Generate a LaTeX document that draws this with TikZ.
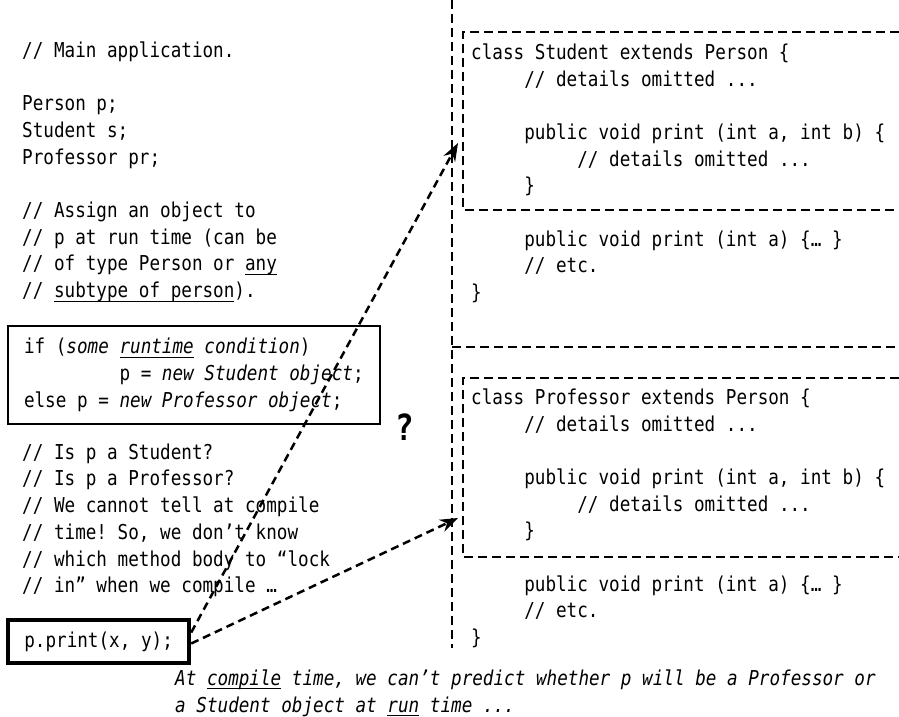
\documentclass[tikz,border=0pt]{standalone}
\usepackage{fontspec}
\setmainfont{DejaVu Sans Mono}[FakeStretch=0.86,
    ItalicFont={DejaVu Sans Mono Oblique},
    BoldFont={DejaVu Sans Mono Bold},
    BoldItalicFont={DejaVu Sans Mono Bold Oblique}]
\usetikzlibrary{arrows.meta}
\newcommand{\codefont}{\fontsize{20.5}{26.7}\selectfont\frenchspacing\spaceskip=\fontcharwd\font`0\relax}
\newcommand{\tabin}{\phantom{00000}}
\newcommand{\undl}[1]{\setbox0\hbox{#1}\rlap{\rule[-4pt]{\wd0}{1pt}}\box0\relax}

\begin{document}
\begin{tikzpicture}[x=1pt, y=-1pt,
    code/.style={font=\codefont, align=left, inner sep=0pt, anchor=north west},
    codebox/.style={draw, line width=2pt, font=\codefont, align=left,
        inner xsep=16pt, anchor=north west},
    callbox/.style={draw, line width=4pt, font=\codefont, align=left,
        inner xsep=16.3pt, anchor=north west},
    frame/.style={line width=1.6pt, dash pattern=on 9pt off 5pt},
    arr/.style={-{Stealth[length=18pt, width=13pt]}, line width=2.5pt,
        dash pattern=on 8pt off 5pt}
]
\useasboundingbox (0,0) rectangle (899,717);

% Left column: main application
\node[code] (mainapp) at (22,41.5) {// Main application.\\ \mbox{}\\ Person p;\\ Student s;\\ Professor pr;\\ \mbox{}\\ // Assign an object to\\ // p at run time (can be\\ // of type Person or \undl{any}\\ // \undl{subtype of person}).};

\node[codebox, minimum height=98pt] (cond) at (7,325)
    {if (\textit{some \undl{runtime} condition})\\ \phantom{000000000}p = \textit{new Student object};\\ else p = \textit{new Professor object};};

\node[code] (unknown) at (22,443.5) {// Is p a Student?\\ // Is p a Professor?\\ // We cannot tell at compile\\ // time! So, we don’t know\\ // which method body to “lock\\ // in” when we compile …};

\node[callbox, minimum height=43pt] (call) at (6,618) {p.print(x, y);};

\node[font=\fontsize{36}{36}\selectfont\bfseries] (qmark) at (405,427) {?};

% Caption
\node[code, font=\codefont\itshape] (caption) at (175,669.5) {At \undl{compile} time, we can’t predict whether p will be a Professor or\\ a Student object at \undl{run} time ...};

% Right column: the two subclasses
\draw[frame] (452,0) -- (452,648);
\draw[frame] (452,347) -- (899,347);
\draw[frame] (899,32) -| (463,210) -- (899,210);
\draw[frame] (899,378) -| (463,557) -- (899,557);

\node[code] (student) at (471,43.5) {class Student extends Person \{\\ \tabin// details omitted ...\\ \mbox{}\\ \tabin public void print (int a, int b) \{\\ \tabin\tabin// details omitted ...\\ \tabin\}\\ \mbox{}\\ \tabin public void print (int a) \{… \}\\ \tabin// etc.\\ \}};

\node[code] (professor) at (471,388.5) {class Professor extends Person \{\\ \tabin// details omitted ...\\ \mbox{}\\ \tabin public void print (int a, int b) \{\\ \tabin\tabin// details omitted ...\\ \tabin\}\\ \mbox{}\\ \tabin public void print (int a) \{… \}\\ \tabin// etc.\\ \}};

% Arrows from the call to both candidate methods
\coordinate (stuend) at (458,143);
\coordinate (profend) at (458,518);
\draw[arr] ([yshift=9pt]call.east) -- (stuend);
\draw[arr] ([yshift=-2pt]call.east) -- (profend);

\end{tikzpicture}
\end{document}
